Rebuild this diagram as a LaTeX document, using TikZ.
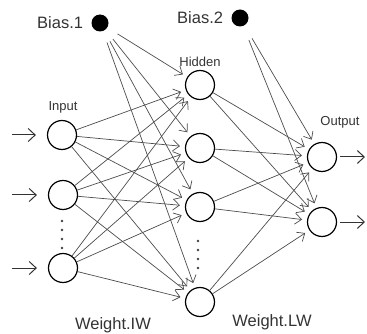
\documentclass[tikz,border=0pt]{standalone}
\usepackage{fontspec}
\setmainfont{Liberation Sans}
\usetikzlibrary{arrows.meta}

\begin{document}
\begin{tikzpicture}[x=1pt,y=-1pt]
\tikzstyle{every node}+=[inner sep=0pt]
\tikzstyle{neuron}=[draw=black, circle, line width=1.2pt, minimum size=29pt]
\tikzstyle{biasdot}=[fill=black, circle, minimum size=17pt]
\tikzstyle{wire}=[draw=black!70, line width=0.7pt, shorten >=5pt, -{Straight Barb[length=6.5pt,width=11pt]}]
\tikzstyle{feed}=[draw=black!80, line width=1pt, -{Straight Barb[length=7pt,width=13pt]}]
\tikzstyle{lbl}=[text=black!80, font=\fontsize{13}{13}\selectfont]
\tikzstyle{biglbl}=[text=black!80, font=\fontsize{16.5}{17}\selectfont]
\useasboundingbox (0,0) rectangle (367,334);
% bias units
\node [biasdot] (b1) at (100,23) {};
\node [biasdot] (b2) at (240,18) {};
\node [biglbl, left=8pt] at (b1.west) {Bias.1};
\node [biglbl, left=8pt] at (b2.west) {Bias.2};
% layers
\node [neuron] (i1) at (62,135) {};
\node [neuron] (i2) at (63,195) {};
\node [neuron] (i3) at (63,268) {};
\node [neuron] (h1) at (200,85) {};
\node [neuron] (h2) at (200,148) {};
\node [neuron] (h3) at (200,207) {};
\node [neuron] (h4) at (200,302) {};
\node [neuron] (o1) at (322,157) {};
\node [neuron] (o2) at (322,222) {};
\node [lbl] at (63,107) {Input};
\node [lbl] at (200,62) {Hidden};
\node [lbl] at (340,122) {Output};
\node [biglbl] at (113,325) {Weight.IW};
\node [biglbl] at (272,322) {Weight.LW};
% dots
\foreach \k in {0,1,2,3} {
  \fill [black!75] (62,221+9*\k) circle (1.3);
  \fill [black!75] (198,241+9*\k) circle (1.3);
}
% external inputs and outputs
\coordinate (x1) at (12,135);
\coordinate (x2) at (12,195);
\coordinate (x3) at (12,268);
\coordinate (y1) at (365,157);
\coordinate (y2) at (365,222);
\draw [feed, shorten >=11pt] (x1) -- (i1);
\draw [feed, shorten >=11pt] (x2) -- (i2);
\draw [feed, shorten >=11pt] (x3) -- (i3);
\draw [feed, shorten <=3pt] (o1) -- (y1);
\draw [feed, shorten <=3pt] (o2) -- (y2);
% weights
\foreach \a in {i1,i2,i3} {
  \foreach \b in {h1,h2,h3,h4} {
    \draw [wire] (\a) -- (\b);
  }
}
\foreach \b in {h1,h2,h3,h4} {
  \draw [wire, shorten <=12pt] (b1) -- (\b);
}
\foreach \a in {h1,h2,h3,h4} {
  \foreach \b in {o1,o2} {
    \draw [wire] (\a) -- (\b);
  }
}
\foreach \b in {o1,o2} {
  \draw [wire, shorten <=15pt] (b2) -- (\b);
}
\end{tikzpicture}
\end{document}
